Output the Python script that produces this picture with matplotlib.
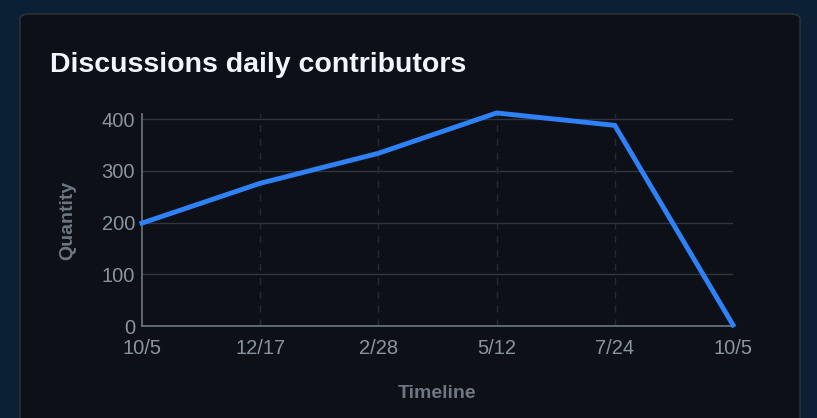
import matplotlib.pyplot as plt
from matplotlib.patches import FancyBboxPatch

# data
dates = ['10/5', '12/17', '2/28', '5/12', '7/24', '10/5']
contributors = [199, 276, 334, 412, 388, 2]
y_ticks = [0, 100, 200, 300, 400]

plt.rcParams['font.family'] = ['Liberation Sans', 'DejaVu Sans']

fig = plt.figure(figsize=(8.17, 4.18), dpi=100)
fig.patch.set_facecolor('#0b2035')

# card behind the chart
card = FancyBboxPatch((20 / 817, -0.05), 780 / 817, 1 - 14 / 418 + 0.05,
                      boxstyle='round,pad=0,rounding_size=0.012',
                      transform=fig.transFigure, facecolor='#0d1117',
                      edgecolor='#30363d', linewidth=1, zorder=-1)
fig.patches.append(card)

fig.text(50 / 817, 1 - 65 / 418, 'Discussions daily contributors', color='#f0f6fc',
         fontsize=20.5, fontweight='bold', va='center', ha='left', zorder=2)

ax = fig.add_axes([142 / 817, 1 - 326 / 418, 591 / 817, 212 / 418], zorder=1)
ax.set_facecolor('#0d1117')

x = list(range(len(dates)))
ax.plot(x, contributors, color='#2f81f7', linewidth=3.5, solid_joinstyle='miter',
        clip_on=False, zorder=3)

ax.set_xlim(0, len(dates) - 1)
ax.set_ylim(0, 410)
ax.set_xticks(x)
ax.set_xticklabels(dates)
ax.set_yticks(y_ticks)

gray = '#8b949e'
ax.tick_params(colors=gray, labelsize=14.5, length=0, pad=5)
ax.tick_params(axis='x', pad=9)
ax.grid(axis='y', color='#30363d', linewidth=1)
ax.set_axisbelow(True)
for xi in x[1:-1]:
    ax.axvline(xi, color='#262b33', linewidth=1, linestyle=(0, (5, 5)), zorder=1)

for side in ['top', 'right']:
    ax.spines[side].set_visible(False)
for side in ['left', 'bottom']:
    ax.spines[side].set_color('#6e7681')
    ax.spines[side].set_linewidth(1.2)

ax.set_ylabel('Quantity', color='#6e7681', fontsize=14, fontweight='bold', labelpad=18)
ax.set_xlabel('Timeline', color='#6e7681', fontsize=14, fontweight='bold', labelpad=20)

fig.savefig('out.png', dpi=100, facecolor=fig.get_facecolor())
